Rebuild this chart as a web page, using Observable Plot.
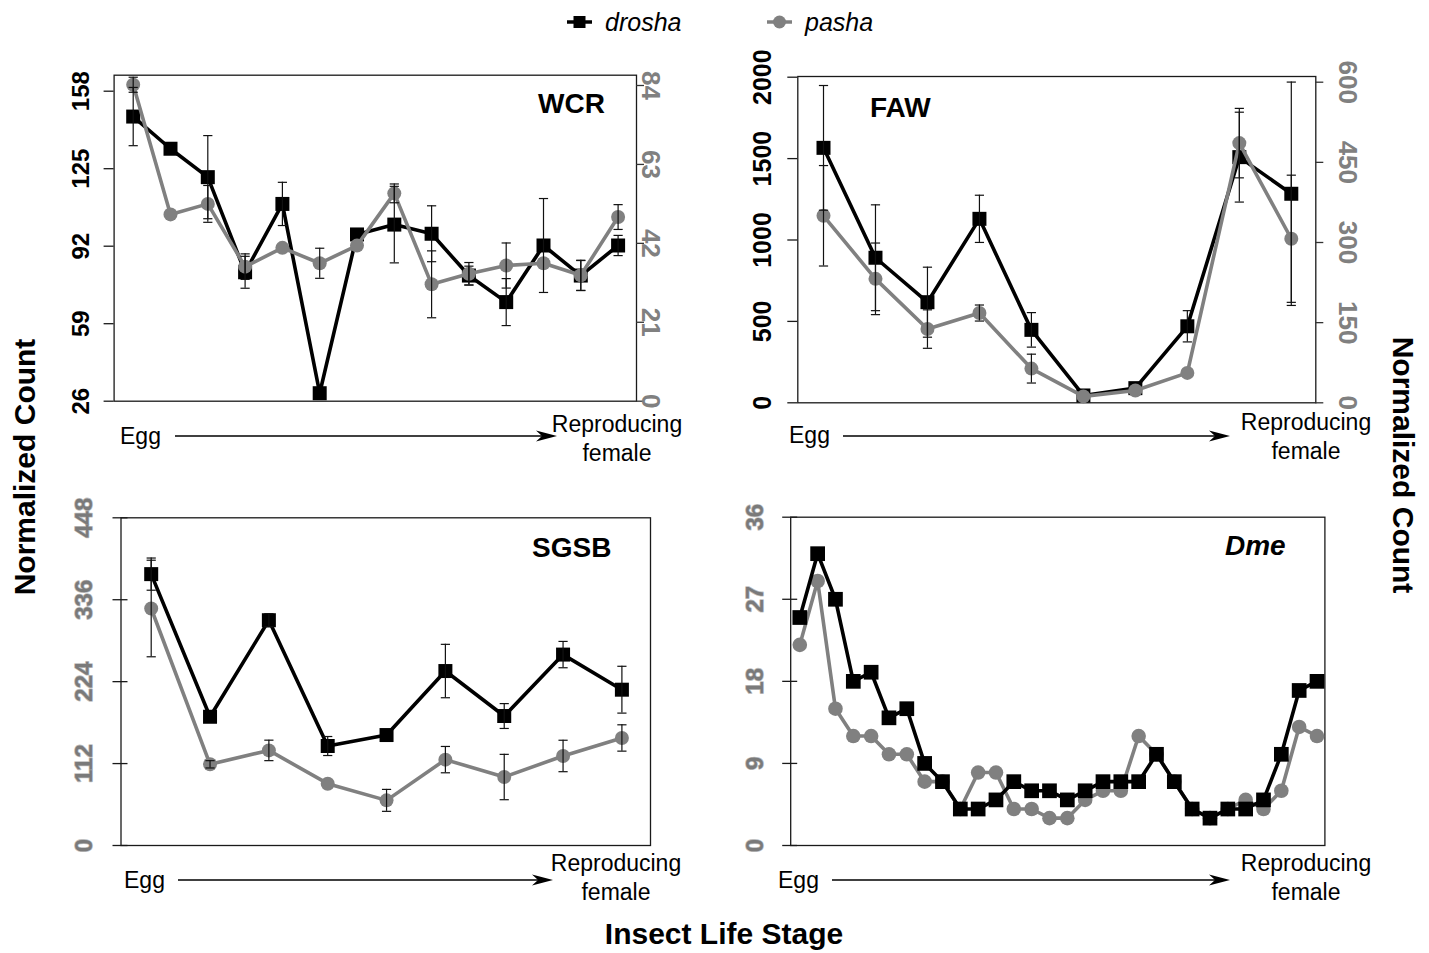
<!DOCTYPE html>
<html><head><meta charset="utf-8">
<script src="https://cdn.jsdelivr.net/npm/d3@7"></script>
<script src="https://cdn.jsdelivr.net/npm/@observablehq/plot@0.6"></script>
<style>
html,body{margin:0;padding:0;background:#fff;}
#root{position:relative;width:1429px;height:953px;overflow:hidden;font-family:"Liberation Sans",Arial,Helvetica,sans-serif;}
.panel{position:absolute;}
#overlay{position:absolute;left:0;top:0;pointer-events:none;}
</style></head><body><div id="root"></div>
<script>
// ---------------- DATA ----------------
const seriesNames = ["drosha", "pasha"];
const axisTitleY = "Normalized Count";
const axisTitleX = "Insect Life Stage";
const stageStart = "Egg";
const stageEnd = ["Reproducing", "female"];

// WCR (14 life stages)
const wcrDrosha    = [147.2, 133.5, 121.4, 80.9, 110.0, 29.4, 97.0, 101.2, 97.3, 79.5, 68.2, 92.3, 79.5, 92.3];
const wcrDroshaErr = [12.4, 0, 17.7, 6.8, 9.2, 0, 0, 16.3, 11.9, 4, 10, 20, 6.4, 4.3];
const wcrPasha     = [84.2, 49.7, 52.5, 35.8, 40.8, 36.7, 41.4, 55.3, 31.1, 33.9, 36.1, 36.7, 33.5, 49.0];
const wcrPashaErr  = [2, 0, 4.9, 3.4, 0, 4, 0, 2.5, 8.9, 3, 6, 0, 4, 3.3];
const wcrLeftTicks  = [26, 59, 92, 125, 158];
const wcrRightTicks = [0, 21, 42, 63, 84];

// FAW (10 life stages)
const fawDrosha    = [1566, 891, 618, 1130, 448, 45, 90, 470, 1509, 1284];
const fawDroshaErr = [383, 325, 215, 145, 106, 0, 0, 96, 276, 686];
const fawPasha     = [350, 232, 138, 168, 64, 12, 23, 56, 486, 307];
const fawPashaErr  = [94, 67, 36, 15, 27, 0, 0, 0, 65, 119];
const fawLeftTicks  = [0, 500, 1000, 1500, 2000];
const fawRightTicks = [0, 150, 300, 450, 600];

// SGSB (9 life stages)
const sgsbDrosha    = [371, 176, 308, 136, 151, 238.5, 177, 261, 213];
const sgsbDroshaErr = [22, 0, 9, 13, 0, 36.5, 17, 18, 32];
const sgsbPasha     = [324, 111, 130, 84.5, 61.7, 117.4, 93.6, 122.4, 147];
const sgsbPashaErr  = [66, 5, 14, 0, 15, 18, 31, 21.5, 18];
const sgsbTicks = [0, 112, 224, 336, 448];

// Dme (30 life stages)
const dmeDrosha = [25, 32, 27, 18, 19, 14, 15, 9, 7, 4, 4, 5, 7, 6, 6, 5, 6, 7, 7, 7, 10, 7, 4, 3, 4, 4, 5, 10, 17, 18];
const dmePasha  = [22, 29, 15, 12, 12, 10, 10, 7, 7, 4, 8, 8, 4, 4, 3, 3, 5, 6, 6, 12, 10, 7, 4, 3, 4, 5, 4, 6, 13, 12];
const dmeTicks = [0, 9, 18, 27, 36];

// ---------------- LAYOUT ----------------
const FONT = '"Liberation Sans", Arial, Helvetica, sans-serif';
const GRAY = "#808080";
const BLACK = "#000";

const panels = [
  {title: "WCR", italic: false, titleX: 538, titleY: 113,
   box: {left: 40, top: 40, width: 650, height: 380},
   frame: {l: 113.6, r: 636, t: 74.7, b: 400.7}, xr: [132.7, 617.6],
   yL: {d: [26, 158], p: [400.7, 90.7]}, yR: {d: [0, 84], p: [400.7, 85]},
   drosha: wcrDrosha, droshaErr: wcrDroshaErr, pasha: wcrPasha, pashaErr: wcrPashaErr,
   leftTicks: wcrLeftTicks, rightTicks: wcrRightTicks,
   leftColor: BLACK, leftX: 81, leftSize: 24, rightX: 650, rightSize: 26,
   tickOut: 10, tickIn: 0, sq: 7.9, cr: 7, pashaOnTop: true, blur: false,
   egg: {x: 120, y: 444}, arrow: {x1: 175, x2: 557, y: 436}, rep: {x: 617, y: 432}},
  {title: "FAW", italic: false, titleX: 870, titleY: 117,
   box: {left: 720, top: 40, width: 660, height: 380},
   frame: {l: 797.3, r: 1315.3, t: 76, b: 402.3}, xr: [823, 1290.8],
   yL: {d: [0, 2000], p: [402.3, 76.7]}, yR: {d: [0, 600], p: [402.3, 81.7]},
   drosha: fawDrosha, droshaErr: fawDroshaErr, pasha: fawPasha, pashaErr: fawPashaErr,
   leftTicks: fawLeftTicks, rightTicks: fawRightTicks,
   leftColor: BLACK, leftX: 762, leftSize: 25, rightX: 1347, rightSize: 26,
   tickOut: 10, tickIn: 0, sq: 7.9, cr: 7, pashaOnTop: true, blur: false,
   egg: {x: 789, y: 443}, arrow: {x1: 843, x2: 1230, y: 436}, rep: {x: 1306, y: 430}},
  {title: "SGSB", italic: false, titleX: 532, titleY: 557,
   box: {left: 40, top: 490, width: 650, height: 375},
   frame: {l: 120.5, r: 650, t: 517.3, b: 845}, xr: [150.7, 621.4],
   yL: {d: [0, 448], p: [845, 517.3]}, yR: null,
   drosha: sgsbDrosha, droshaErr: sgsbDroshaErr, pasha: sgsbPasha, pashaErr: sgsbPashaErr,
   leftTicks: sgsbTicks, rightTicks: null,
   leftColor: "#7a7a7a", leftX: 84, leftSize: 24,
   tickOut: 8, tickIn: 7, sq: 7.9, cr: 7, pashaOnTop: true, blur: true,
   egg: {x: 124, y: 888}, arrow: {x1: 178, x2: 553, y: 880}, rep: {x: 616, y: 871}},
  {title: "Dme", italic: true, titleX: 1225, titleY: 555,
   box: {left: 720, top: 490, width: 660, height: 375},
   frame: {l: 790.2, r: 1324.4, t: 516.7, b: 845}, xr: [799.3, 1316.5],
   yL: {d: [0, 36], p: [845, 516.7]}, yR: null,
   drosha: dmeDrosha, droshaErr: null, pasha: dmePasha, pashaErr: null,
   leftTicks: dmeTicks, rightTicks: null,
   leftColor: "#7a7a7a", leftX: 755, leftSize: 24,
   tickOut: 8, tickIn: 7, sq: 8.3, cr: 7.3, pashaOnTop: false, blur: true,
   egg: {x: 778, y: 888}, arrow: {x1: 832, x2: 1230, y: 880}, rep: {x: 1306, y: 871}}
];

const capSymbol = {draw(ctx, size) { const r = Math.sqrt(size / Math.PI); ctx.moveTo(-r, 0); ctx.lineTo(r, 0); }};

const root = document.getElementById("root");

function buildPanel(p) {
  const {box, frame} = p;
  const fw = frame.r - frame.l;
  const toPx = (s, v) => s.p[0] + (v - s.d[0]) / (s.d[1] - s.d[0]) * (s.p[1] - s.p[0]);
  const fromPx = (s, px) => s.d[0] + (px - s.p[0]) / (s.p[1] - s.p[0]) * (s.d[1] - s.d[0]);
  const eq = p.yR ? (v => fromPx(p.yL, toPx(p.yR, v))) : (v => v);
  const n = p.drosha.length;
  const D = p.drosha.map((v, i) => {
    const e = p.droshaErr ? p.droshaErr[i] : 0;
    return {i, v, lo: v - e, hi: v + e, e};
  });
  const P = p.pasha.map((v, i) => {
    const e = p.pashaErr ? p.pashaErr[i] : 0;
    return {i, v: eq(v), lo: eq(v - e), hi: eq(v + e), e};
  });
  const errs = [...D, ...P].filter(d => d.e > 0);
  const caps = errs.flatMap(d => [{i: d.i, y: d.lo}, {i: d.i, y: d.hi}]);

  const droshaMarks = [
    Plot.line(D, {x: "i", y: "v", stroke: BLACK, strokeWidth: 3.6}),
    Plot.dot(D, {x: "i", y: "v", symbol: "square", r: p.sq, fill: BLACK, stroke: "none"})
  ];
  const pashaMarks = [
    Plot.line(P, {x: "i", y: "v", stroke: GRAY, strokeWidth: 3.6}),
    Plot.dot(P, {x: "i", y: "v", symbol: "circle", r: p.cr, fill: GRAY, stroke: "none"})
  ];
  const seriesMarks = p.pashaOnTop ? [...droshaMarks, ...pashaMarks] : [...pashaMarks, ...droshaMarks];

  const marks = [
    Plot.frame({stroke: "#1a1a1a", strokeWidth: 1.3}),
    Plot.ruleY(p.leftTicks, {y: d => d, insetLeft: -p.tickOut, insetRight: fw - p.tickIn, stroke: "#1a1a1a", strokeWidth: 1.3}),
    Plot.text(p.leftTicks, {y: d => d, text: d => String(d), frameAnchor: "left", dx: p.leftX - frame.l,
      rotate: -90, textAnchor: "middle", lineAnchor: "middle", fontSize: p.leftSize, fontWeight: "bold",
      fill: p.leftColor, stroke: p.blur ? "#8a8a8a" : "none", strokeWidth: p.blur ? 1.6 : 0, strokeOpacity: 0.55,
      ariaLabel: p.blur ? "blur-tick" : "left-tick"}),
    ...seriesMarks,
    Plot.ruleX(errs, {x: "i", y1: "lo", y2: "hi", stroke: "#111", strokeWidth: 1.2}),
    Plot.dot(caps, {x: "i", y: "y", symbol: capSymbol, r: 4.6, stroke: "#111", strokeWidth: 1.2, fill: "none"})
  ];
  if (p.rightTicks) {
    marks.push(
      Plot.ruleY(p.rightTicks.map(eq), {y: d => d, insetLeft: fw, insetRight: -8, stroke: "#333", strokeWidth: 1.3}),
      Plot.text(p.rightTicks, {y: d => eq(d), text: d => String(d), frameAnchor: "right", dx: p.rightX - frame.r,
        rotate: 90, textAnchor: "middle", lineAnchor: "middle", fontSize: p.rightSize, fontWeight: "bold", fill: GRAY})
    );
  }

  const svg = Plot.plot({
    width: box.width, height: box.height,
    marginLeft: frame.l - box.left, marginRight: box.left + box.width - frame.r,
    marginTop: frame.t - box.top, marginBottom: box.top + box.height - frame.b,
    style: {fontFamily: FONT, background: "transparent", overflow: "visible"},
    x: {type: "linear", domain: [0, n - 1], range: [p.xr[0] - box.left, p.xr[1] - box.left], axis: null},
    y: {type: "linear", domain: p.yL.d, range: [p.yL.p[0] - box.top, p.yL.p[1] - box.top], axis: null},
    marks
  });
  svg.classList.add("panel");
  svg.style.left = box.left + "px";
  svg.style.top = box.top + "px";
  svg.style.position = "absolute";
  if (p.blur) {
    svg.querySelectorAll('g[aria-label="blur-tick"] text').forEach(t => {
      t.style.textShadow = "0 0 2px #888";
    });
  }
  root.appendChild(svg);
}
panels.forEach(buildPanel);

// ---------------- ANNOTATIONS ----------------
const ov = d3.select(root).append("svg").attr("id", "overlay")
  .attr("width", 1429).attr("height", 953)
  .style("font-family", FONT);

panels.forEach(p => {
  ov.append("text").attr("x", p.titleX).attr("y", p.titleY).text(p.title)
    .attr("font-size", 28).attr("font-weight", "bold").attr("font-style", p.italic ? "italic" : "normal");
  ov.append("text").attr("x", p.egg.x).attr("y", p.egg.y).text(stageStart).attr("font-size", 23);
  const a = p.arrow;
  ov.append("line").attr("x1", a.x1).attr("x2", a.x2 - 10).attr("y1", a.y).attr("y2", a.y)
    .attr("stroke", "#000").attr("stroke-width", 1.4);
  ov.append("path").attr("d", `M${a.x2},${a.y} L${a.x2 - 21},${a.y - 5.5} L${a.x2 - 15},${a.y} L${a.x2 - 21},${a.y + 5.5} Z`)
    .attr("fill", "#000");
  ov.append("text").attr("x", p.rep.x).attr("y", p.rep.y).text(stageEnd[0])
    .attr("font-size", 23).attr("text-anchor", "middle");
  ov.append("text").attr("x", p.rep.x).attr("y", p.rep.y + 29).text(stageEnd[1])
    .attr("font-size", 23).attr("text-anchor", "middle");
});

// axis titles
ov.append("text").attr("transform", "translate(24,467) rotate(-90)").attr("text-anchor", "middle")
  .attr("dominant-baseline", "central").attr("font-size", 30).attr("font-weight", "bold").text(axisTitleY);
ov.append("text").attr("transform", "translate(1403,465) rotate(90)").attr("text-anchor", "middle")
  .attr("dominant-baseline", "central").attr("font-size", 30).attr("font-weight", "bold").text(axisTitleY);
ov.append("text").attr("x", 724).attr("y", 944).attr("text-anchor", "middle")
  .attr("font-size", 30).attr("font-weight", "bold").text(axisTitleX);

// legend
const leg = [
  {name: seriesNames[0], x: 567, color: BLACK, shape: "square", tx: 605},
  {name: seriesNames[1], x: 767, color: GRAY, shape: "circle", tx: 805}
];
leg.forEach(l => {
  ov.append("line").attr("x1", l.x).attr("x2", l.x + 25).attr("y1", 22).attr("y2", 22)
    .attr("stroke", l.color).attr("stroke-width", 3.5);
  if (l.shape === "square") {
    ov.append("rect").attr("x", l.x + 6.5).attr("y", 16).attr("width", 12).attr("height", 12).attr("fill", l.color);
  } else {
    ov.append("circle").attr("cx", l.x + 12.5).attr("cy", 22).attr("r", 6.5).attr("fill", l.color);
  }
  ov.append("text").attr("x", l.tx).attr("y", 31).attr("font-size", 25).attr("font-style", "italic").text(l.name);
});
</script></body></html>
